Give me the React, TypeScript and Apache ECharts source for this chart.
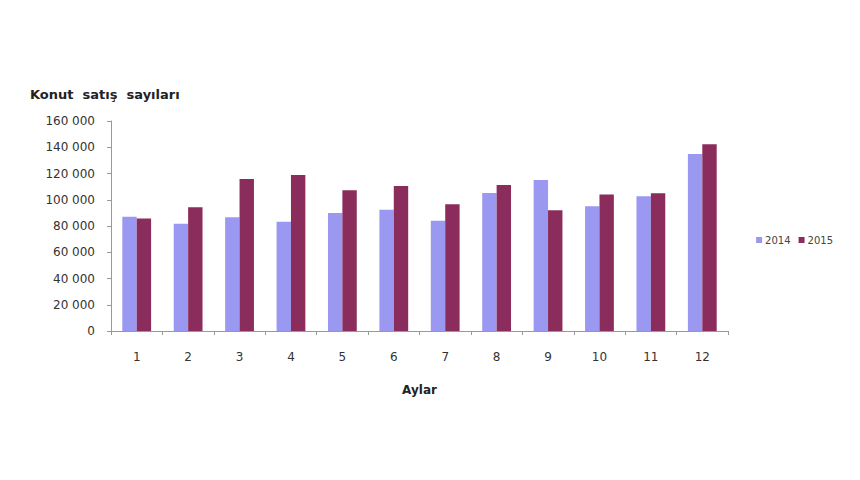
import React, { useEffect, useRef } from "react";
import * as echarts from "echarts";

const months = ["1", "2", "3", "4", "5", "6", "7", "8", "9", "10", "11", "12"];
const sales2014 = [87000, 81800, 86600, 83300, 89900, 92400, 84000, 105200, 115000, 95000, 102600, 134800];
const sales2015 = [85700, 94200, 115900, 118900, 107200, 110500, 96600, 111300, 92000, 104000, 105000, 142300];
const yTicks = [0, 20000, 40000, 60000, 80000, 100000, 120000, 140000, 160000];

const fmt = (v: number) => {
  if (v === 0) return "0";
  const s = String(v);
  return s.slice(0, s.length - 3) + " " + s.slice(s.length - 3);
};

export default function App() {
  const ref = useRef<HTMLDivElement>(null);
  useEffect(() => {
    document.body.style.margin = "0";
    if (!ref.current) return;
    const chart = echarts.init(ref.current, undefined, { renderer: "svg" });
    const font = "'DejaVu Sans', Verdana, sans-serif";
    chart.setOption({
      animation: false,
      backgroundColor: "#ffffff",
      textStyle: { fontFamily: font },
      title: {
        text: "Konut  satış  sayıları",
        left: 25,
        top: 83,
        textStyle: { fontSize: 13, fontWeight: "bold", color: "#222", fontFamily: font },
      },
      legend: {
        right: 22,
        top: 230,
        itemWidth: 6,
        itemHeight: 6,
        itemGap: 8,
        icon: "rect",
        textStyle: { fontSize: 10, color: "#444", fontFamily: font, padding: [0, 0, 0, -2] },
        data: ["2014", "2015"],
      },
      grid: { left: 111, top: 121, right: 132, bottom: 149, containLabel: false },
      xAxis: {
        type: "category",
        data: months,
        name: "Aylar",
        nameLocation: "middle",
        nameGap: 53,
        nameTextStyle: { fontSize: 12, fontWeight: "bold", color: "#222", fontFamily: font },
        axisLine: { lineStyle: { color: "#999" } },
        axisTick: { show: true, length: 4, lineStyle: { color: "#999" } },
        axisLabel: { fontSize: 12, color: "#333", margin: 20, fontFamily: font },
      },
      yAxis: {
        type: "value",
        min: 0,
        max: 160000,
        interval: 20000,
        axisLine: { show: true, lineStyle: { color: "#999" } },
        axisTick: { show: true, length: 4, lineStyle: { color: "#999" } },
        splitLine: { show: false },
        axisLabel: {
          fontSize: 12,
          color: "#333",
          margin: 16,
          fontFamily: font,
          formatter: (v: number) => (yTicks.includes(v) ? fmt(v) : ""),
        },
      },
      series: [
        {
          name: "2014",
          type: "bar",
          data: sales2014,
          itemStyle: { color: "#9a98f0" },
          barGap: "0%",
          barCategoryGap: "44%",
        },
        {
          name: "2015",
          type: "bar",
          data: sales2015,
          itemStyle: { color: "#8b2d5c" },
          barGap: "0%",
          barCategoryGap: "44%",
        },
      ],
    });
    return () => chart.dispose();
  }, []);
  return <div ref={ref} style={{ width: 860, height: 480 }} />;
}
